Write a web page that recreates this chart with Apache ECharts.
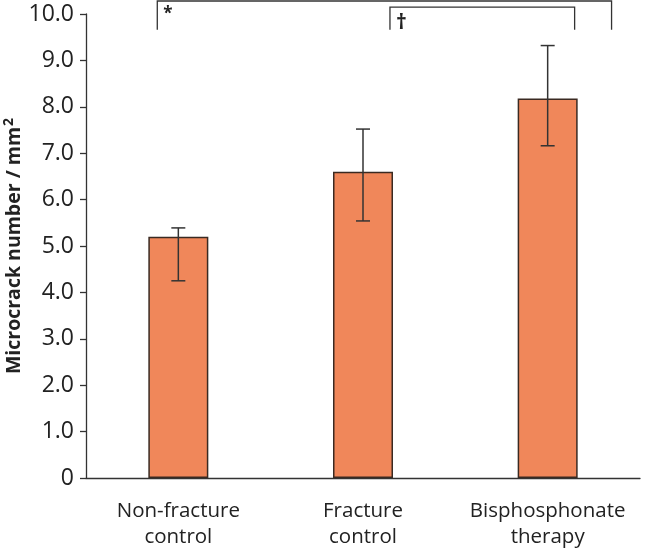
<!DOCTYPE html>
<html>
<head>
<meta charset="utf-8">
<script src="https://cdn.jsdelivr.net/npm/echarts@6/dist/echarts.min.js"></script>
<style>html,body{margin:0;padding:0;background:#fff;}#c{width:660px;height:554px;}</style>
</head>
<body>
<div id="c"></div>
<script>
var categories = ['Non-fracture\ncontrol', 'Fracture\ncontrol', 'Bisphosphonate\ntherapy'];
var means = [5.2, 6.6, 8.18];
var errUpper = [5.39, 7.52, 9.32];
var errLower = [4.25, 5.54, 7.16];
var yTicks = [0, 1, 2, 3, 4, 5, 6, 7, 8, 9, 10];
// significance brackets
var brackets = [
  {from: 0, fromOff: -0.114, to: 2, toOff: 0.346, top: 10.28, bottom: 9.66, label: '*', size: 17},
  {from: 1, fromOff: 0.146, to: 2, toOff: 0.146, top: 10.15, bottom: 9.66, label: '\u2020', size: 21}
];

var chart = echarts.init(document.getElementById('c'), null, {renderer: 'canvas'});
var FONT = '"Open Sans", "Noto Sans", sans-serif';

chart.setOption({
  animation: false,
  backgroundColor: '#fff',
  grid: {left: 86, right: 20, top: 14, bottom: 76, containLabel: false, outerBoundsMode: 'none'},
  xAxis: {
    type: 'category',
    data: categories,
    axisLine: {lineStyle: {color: '#333', width: 1.3}},
    axisTick: {show: false},
    axisLabel: {interval: 0, hideOverlap: false, color: '#222', fontSize: 20.5, fontFamily: FONT, lineHeight: 26, margin: 20}
  },
  yAxis: {
    type: 'value',
    min: 0, max: 10, interval: 1,
    name: '{n|Microcrack number / mm}{s|2}',
    nameLocation: 'middle',
    nameGap: 60,
    nameMoveOverlap: false,
    nameTextStyle: {
      rich: {
        n: {fontSize: 19.5, fontWeight: 'bold', color: '#222', fontFamily: FONT},
        s: {fontSize: 14, fontWeight: 'bold', color: '#222', fontFamily: FONT, verticalAlign: 'top', padding: [0, 0, 10, 1]}
      }
    },
    axisLine: {show: true, lineStyle: {color: '#333', width: 1.3}},
    axisTick: {show: true, length: 6, lineStyle: {color: '#333', width: 1.3}},
    splitLine: {show: false},
    axisLabel: {
      color: '#222', fontSize: 23, fontFamily: FONT, margin: 12,
      formatter: function (v) { return v === 0 ? '0' : v.toFixed(1); }
    }
  },
  series: [
    {
      type: 'bar',
      data: means,
      barWidth: 60,
      itemStyle: {color: '#F0875A', borderColor: '#3a2a22', borderWidth: 1.5}
    },
    {
      type: 'custom',
      data: categories.map(function (c, i) { return [i, errLower[i], errUpper[i]]; }),
      z: 5,
      renderItem: function (params, api) {
        var i = api.value(0);
        var lo = api.coord([i, api.value(1)]);
        var hi = api.coord([i, api.value(2)]);
        var hw = 7;
        var st = {stroke: '#333', lineWidth: 1.5};
        return {type: 'group', children: [
          {type: 'line', shape: {x1: hi[0], y1: hi[1], x2: lo[0], y2: lo[1]}, style: st},
          {type: 'line', shape: {x1: hi[0] - hw, y1: hi[1], x2: hi[0] + hw, y2: hi[1]}, style: st},
          {type: 'line', shape: {x1: lo[0] - hw, y1: lo[1], x2: lo[0] + hw, y2: lo[1]}, style: st}
        ]};
      }
    },
    {
      type: 'custom',
      clip: false,
      data: brackets.map(function (b) { return [b.from, b.to, b.top, b.bottom, b.fromOff, b.toOff]; }),
      renderItem: function (params, api) {
        var b = brackets[params.dataIndex];
        var band = api.size([1, 0])[0];
        var a = api.coord([b.from, b.top]);
        var c = api.coord([b.to, b.top]);
        var bot = api.coord([b.from, b.bottom]);
        var x1 = a[0] + b.fromOff * band;
        var x2 = c[0] + b.toOff * band;
        var st = {stroke: '#333', lineWidth: 1.3, fill: null};
        return {type: 'group', children: [
          {type: 'polyline', shape: {points: [[x1, bot[1]], [x1, a[1]], [x2, a[1]], [x2, bot[1]]]}, style: st},
          {type: 'text', style: {text: b.label, x: x1 + 6, y: a[1] + 5, fill: '#222', fontSize: b.size, fontWeight: 'bold', fontFamily: FONT, textAlign: 'left', textVerticalAlign: 'top'}}
        ]};
      }
    }
  ]
});
</script>
</body>
</html>
